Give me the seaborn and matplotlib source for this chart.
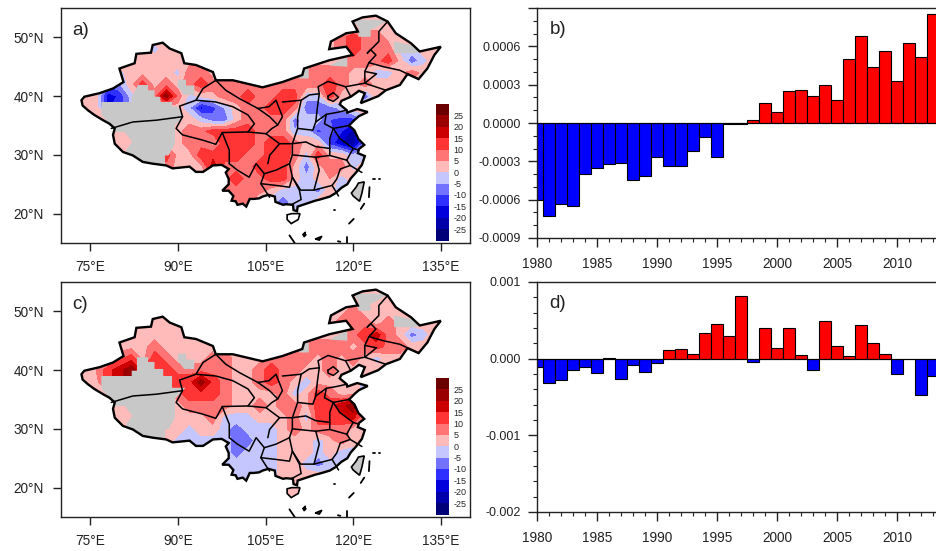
import numpy as np
import matplotlib
matplotlib.use('Agg')
import matplotlib.pyplot as plt
import seaborn as sns
from matplotlib.colors import ListedColormap, BoundaryNorm
from matplotlib.colorbar import ColorbarBase
from matplotlib.patches import Polygon
from matplotlib.ticker import MultipleLocator, FuncFormatter

# ── bar series ──────────────────────────────────────────────
years = list(range(1980, 2014))
series_b = [-0.00060, -0.00073, -0.000634, -0.00065, -0.000397, -0.000355, -0.000323, -0.000316,
            -0.000443, -0.000412, -0.000269, -0.000339, -0.000337, -0.000222, -0.000107, -0.000266,
            -0.000005, -0.000005, 0.00002, 0.000154, 0.000083, 0.000253, 0.000258, 0.000214,
            0.000297, 0.00018, 0.0005, 0.000683, 0.00044, 0.000566, 0.000331, 0.000623, 0.000514, 0.000853]
series_d = [-0.00011, -0.00032, -0.00028, -0.00015, -0.00011, -0.00019, 0.00001, -0.00027,
            -0.00008, -0.00017, -0.00006, 0.00011, 0.00013, 0.000065, 0.00034, 0.00045,
            0.0003, 0.00082, -0.00004, 0.0004, 0.00014, 0.0004, 0.00005, -0.00015,
            0.00049, 0.00016, 0.00003, 0.00044, 0.0002, 0.000065, -0.0002, -0.000005, -0.00048, -0.00023]

# ── gridded fields, 2 degree ────────────────────────────────
grid_lon = list(range(72, 138, 2))
grid_lat = list(range(54, 16, -2))
field_a = [
    [3]*33,
    [3]*33,
    [3]*23 + [8,13,8,8,3,3,3,3,3,3],
    [3,3,3,3,3,3,3,-2,3,3] + [3]*13 + [8,13,8,8,8,-2,-2,3,3,3],
    [3]*23 + [3,8,8,8,13,3,-9,-2,3,3],
    [3,3,3,3,-2,3,3,3,3,-2,8,8,3,8,8,8,8,8,8,8,8,8,8,8,3,3,-3,-3,3,8,3,3,3],
    [3,3,3,-8,-6,3,13,3,8,3,8,13,8,8,8,8,8,8,8,8,8,8,13,8,3,8,3,3,3,3,3,3,3],
    [3,3,3,-18,-14,-3,3,8,23,8,-2,1,3,8,8,13,8,8,13,13,-3,-3,13,3,3,-10,3,3,3,3,3,3,3],
    [3,3,3,-16,-12,-4,3,3,3,3,-5,-17,-12,-5,3,8,8,13,13,8,-9,-8,-8,-3,3,3] + [3]*7,
    [3]*10 + [3,-3,-8,-8,2,8,8,8,8,-8,-2,-3,-10,-12,-12,-3] + [3]*7,
    [3]*10 + [8,8,13,13,13,13,8,8,8,-5,-2,-12,-8,-15,-22,-10] + [3]*7,
    [3]*10 + [8,8,3,13,13,13,8,13,13,8,3,3,-12,-20,-24,-8] + [3]*7,
    [3]*8 + [13,3,3,13,13,13,13,8,8,13,13,8,-2,13,3,3,-5,-2] + [3]*7,
    [3]*8 + [8,3,3,3,18,8,8,8,13,13,13,3,-8,3,8,8,-2,3] + [3]*7,
    [3]*8 + [8,3,3,3,8] + [8,13,8,8,13,13,3,-4,3,5,-3,3,3] + [3]*7,
    [3]*12 + [8] + [8,8,8,8,3,-2,-2,-2,-8,3,-5,3,3] + [3]*7,
    [3]*12 + [8] + [8,8,8,-3,-3,-8,-2,-2,3,3,3,3,3] + [3]*7,
    [3]*13 + [8,8,8,8,3,-8,-3,3] + [3]*12,
    [3]*33,
]
field_c = [
    [3]*33,
    [3]*33,
    [3]*23 + [3,8,3,3,3,3,3,3,3,3],
    [3]*23 + [8,8,8,3,8,3,3,3,3,3],
    [3]*23 + [3,8,13,18,8,3,-8,-3,3,3],
    [3,3,3,3,3,3,3,8,3,3] + [3]*6 + [8,8,8,8,8] + [8,8,8,3,8,13,8,8,3,3,3,3],
    [3,3,3,3,8,13,3,13,8,3,3,3,8,8,3,3,3,8,8,8,8,3,8,3,8,3,-3,3] + [3]*5,
    [3,3,5,13,18,24,13,13,13,8,8,8,8,8,3,3,8,13,8,8,3,3,8,3,3,3] + [3]*7,
    [3,3,3,13,18,24,3,3,13,13,13,23,13,8,3,3,8,13,8,3,-3,3,3,3,3,-3] + [3]*7,
    [3]*9 + [8] + [13,13,13,8,3,3,3,3,8,-3,3,13,8,3,3,-2] + [3]*7,
    [3]*10 + [8,8,8,8,3,3,8,3,8,8,3,13,13,18,23,3] + [3]*7,
    [3]*10 + [3,3,8,-2,-2,-2,3,3,3,8,-3,13,13,13,18,3] + [3]*7,
    [3]*8 + [3,3,-2,3,3,-3,-8,-3,-3,-3,3,8,3,8,8,8,3,3] + [3]*7,
    [3]*8 + [3,-2,-2,-2,-2,-2,-8,-8,-2,-3,3,3,3,-3,3,8,3,3] + [3]*7,
    [3]*8 + [3,-2,-2,-2,-2] + [-2,-8,-3,-3,-3,3,3,3,-3,3,-3,-3,3] + [3]*7,
    [3]*12 + [-2] + [-2,-3,-3,-3,-3,3,3,-3,-8,-3,-3,3,3] + [3]*7,
    [3]*12 + [-2] + [-3,-3,-3,-3,-3,3,3,3,3,3,3,3,3] + [3]*7,
    [3]*13 + [-3,-3,-3,-3,3,3,3,3] + [3]*12,
    [3]*33,
]

# ── country and province outlines, lon/lat ──────────────────
china_lon = [73.5,74.0,76.6,78.9,80.7,80.0,82.6,82.9,85.4,85.7,87.4,88.6,90.6,91.1,93.1,96.0,96.5,99.4,104.5,107.9,111.3,111.6,115.9,119.9,
             118.8,115.9,116.2,118.8,120.8,119.9,121.6,123.9,125.9,127.3,129.9,131.4,135.0,133.9,132.7,131.2,129.3,128.0,125.6,124.3,
             121.3,122.0,121.0,119.6,118.0,117.7,118.9,119.0,120.7,122.5,121.0,120.3,119.3,120.2,120.9,121.9,121.0,120.8,122.0,121.5,120.5,119.6,119.0,118.0,117.0,116.0,114.3,113.5,112.0,110.5,110.4,109.8,109.7,108.5,108.0,
             106.7,106.6,105.5,104.5,103.9,103.0,102.3,101.7,101.1,100.2,99.9,99.2,99.5,98.7,97.6,98.7,98.7,98.2,98.7,97.5,96.0,94.3,93.1,92.0,89.1,88.0,85.7,84.0,82.3,80.6,79.2,78.9,79.2,78.3,77.2,75.7,74.6,73.7]
china_lat = [39.3,39.9,40.5,41.3,42.4,44.7,45.6,47.2,47.4,48.7,49.1,48.1,47.3,45.6,45.3,44.1,42.7,42.7,41.5,42.4,43.6,44.7,46.1,47.0,
             48.4,48.0,49.3,50.7,51.0,52.7,53.4,53.7,52.7,50.7,49.0,47.6,48.4,47.0,44.7,42.9,43.75,41.9,41.0,40.0,
             38.8,40.5,40.9,39.9,39.2,38.6,37.6,37.2,37.8,37.3,36.6,36.0,35.0,34.2,32.7,31.7,31.0,30.3,29.8,28.3,27.0,26.0,25.0,24.4,23.5,22.9,22.4,22.2,21.7,21.2,20.4,20.6,21.5,21.6,21.5,
             22.0,22.9,23.2,22.9,22.6,22.5,22.5,21.2,21.7,21.5,22.1,22.2,23.0,23.9,23.9,25.0,25.9,27.0,27.6,28.3,28.2,27.1,27.1,28.0,27.7,28.2,28.5,28.8,29.9,30.5,31.9,33.4,34.5,35.3,35.9,36.8,37.6,38.4]
province_lines = [
    [(78.6,34.5),(82.3,35.6),(86.3,35.9),(90.8,36.5),(90.3,38.3),(93.1,39.3),(94.3,41.3),(96.5,42.7)],
    [(93.1,39.3),(96.5,39.0),(99.4,38.2),(102.0,36.8),(103.1,35.3),(102.0,33.9)],
    [(96.5,42.7),(98.2,41.0),(100.5,39.6),(103.7,37.9),(105.6,38.2),(106.8,39.3),(107.9,36.5),(107.1,35.1),(105.7,36.5),(103.7,37.9)],
    [(90.8,36.5),(89.7,34.5),(90.8,33.4),(94.3,32.5),(96.5,31.8),(97.6,33.8),(102.0,33.9),(105.1,33.6),(107.4,31.9),(109.6,31.9)],
    [(97.6,33.8),(98.8,30.8),(98.8,28.5)],
    [(98.8,28.5),(100.2,27.4),(102.2,26.2),(103.4,28.5),(104.8,26.8),(104.2,25.1),(105.1,23.7),(105.7,22.8)],
    [(104.8,26.8),(106.8,27.4),(109.1,28.5),(109.6,26.2),(110.8,24.0),(111.1,22.4),(109.4,21.5)],
    [(104.2,25.1),(106.8,24.8),(109.1,24.5),(109.6,26.2)],
    [(107.4,31.9),(105.7,29.9),(105.4,28.5)],
    [(109.6,31.9),(109.6,30.0),(109.1,28.5)],
    [(105.1,33.6),(106.1,34.5),(107.1,35.1)],
    [(107.9,39.0),(111.1,39.3),(110.5,36.5),(110.5,34.5),(109.6,31.9)],
    [(111.1,39.3),(112.5,40.2),(114.2,40.4),(113.9,38.2),(113.6,35.6),(113.1,34.2),(110.5,34.5)],
    [(114.2,40.4),(114.0,41.6),(115.7,42.5),(118.7,41.6),(119.6,39.9)],
    [(115.7,40.0),(116.6,40.6),(117.5,39.8),(116.6,39.1),(115.7,39.5),(115.7,40.0)],
    [(113.6,35.6),(115.4,36.9),(117.1,37.2),(118.9,37.6)],
    [(115.4,36.9),(115.1,35.3),(116.6,34.5),(119.3,35.0)],
    [(116.6,34.5),(116.0,32.8),(116.0,31.1)],
    [(109.6,31.9),(111.9,32.2),(113.6,31.4),(116.0,31.1)],
    [(116.6,34.5),(117.7,32.8),(120.0,31.1),(121.0,30.8)],
    [(120.0,31.1),(118.9,29.1)],
    [(116.0,31.1),(116.0,29.9),(118.9,29.1)],
    [(109.6,30.0),(113.6,29.6),(116.0,29.9)],
    [(113.6,29.6),(114.2,27.4),(113.3,24.0)],
    [(109.6,26.2),(111.0,24.0),(113.3,24.0),(116.4,24.8),(117.5,23.0)],
    [(118.9,29.1),(119.5,28.2),(117.8,27.6),(117.2,25.9),(116.4,24.8)],
    [(119.5,28.2),(121.5,27.0)],
    [(125.9,52.7),(124.4,51.0),(124.4,49.3),(122.4,47.3),(123.0,47.9),(123.9,47.0),(122.7,45.7),(122.0,44.2),(122.0,42.2),(118.7,41.6)],
    [(122.7,45.7),(125.2,45.0),(128.0,44.4),(131.2,42.9)],
    [(122.0,42.2),(125.6,41.0)],
    [(122.0,44.2),(124.0,43.8),(122.0,42.2)],
]

# ── missing-data areas ──────────────────────────────────────
gray_south = [(89.5,35.1),(89.5,31.9),(88.4,29.9),(87.8,29.9),(87.8,27.0),(83.4,27.0),(81.15,29.9),(81.15,30.8),(82.2,32.2),(80.9,33.9),(78.9,33.9),(78.3,35.3),(76.9,36.8)]
gray_a = [
    [(76.9,39.0),(82.1,39.0),(82.1,39.9),(83.2,41.9),(84.9,41.9),(84.9,41.0),(86.0,41.0),(86.0,39.9),(87.0,39.9),(87.0,39.0),(89.0,39.0),(89.0,38.2),(90.0,38.2),(91.0,36.5)] + gray_south,
    [(90.0,42.8),(91.4,42.8),(91.4,41.8),(92.8,41.8),(92.8,40.2),(91.1,40.2),(90.0,41.6)],
]
gray_c = [
    [(76.9,39.0),(82.1,39.0),(82.1,39.9),(83.0,39.9),(83.0,42.2),(84.9,42.2),(84.9,41.4),(86.0,41.4),(86.0,40.2),(87.5,40.2),(87.5,39.0),(89.0,39.0),(89.0,37.0),(91.3,37.0)] + gray_south,
    [(90.0,42.8),(91.4,42.8),(91.4,41.8),(92.8,41.8),(92.8,40.2),(91.1,40.2),(90.0,41.6)],
]
gray_common = [
    [(119.9,53.0),(126.2,53.0),(123.0,51.25),(123.0,50.1),(120.9,50.1),(120.9,51.8)],
    [(127.0,49.3),(131.5,48.4),(131.0,47.3),(127.0,47.3)],
    [(115.9,45.2),(119.0,46.8),(119.0,45.0)],
    [(110.8,45.0),(112.4,44.7),(112.4,43.0),(110.8,43.0)],
    [(96.0,44.6),(97.0,44.6),(97.0,43.0),(96.0,43.0)],
]

# ── islands and sea boundary dashes, lon/lat ────────────────
taiwan = [(120.9,25.2),(121.9,25.4),(121.5,23.5),(121.1,22.1),(120.0,23.0),(119.7,23.5),(120.5,24.5)]
hainan = [(109.5,20.0),(110.9,20.0),(110.6,19.0),(109.4,18.3),(108.7,19.0),(108.7,19.8)]
sea_lines = [
    [(119.3,18.3),(120.1,19.1)],
    [(109.1,16.3),(110.0,15.0)],
    [(119.0,16.0),(119.0,15.0)],
    [(117.4,15.3),(117.8,15.2)],
    [(121.3,20.8),(121.9,21.7)],
    [(122.7,22.8),(122.8,24.5)],
    [(123.4,25.9),(123.7,25.9)],
    [(124.4,25.9),(124.6,25.9)],
    [(116.7,20.7),(116.9,20.7)],
    [(113.6,15.7),(114.6,16.1),(114.2,15.5),(113.6,15.7)],
    [(111.4,16.4),(111.8,16.8),(111.6,16.1),(111.9,16.4)],
]

# ── colours ─────────────────────────────────────────────────
levels = [-30, -25, -20, -15, -10, -5, 0, 5, 10, 15, 20, 25, 30]
colors = ['#000078', '#0000ab', '#0000dc', '#2f2fff', '#7272ff', '#c6c6ff',
          '#ffbaba', '#ff7575', '#ff3535', '#cc0000', '#9a0000', '#6a0000']
cmap = ListedColormap(colors)
norm = BoundaryNorm(levels, cmap.N)

sns.set_theme(style='ticks')
plt.rcParams['font.family'] = ['Liberation Sans', 'DejaVu Sans']
plt.rcParams['axes.linewidth'] = 1.0
plt.rcParams['axes.edgecolor'] = '#222222'

W, H = 937, 551
fig = plt.figure(figsize=(W / 100, H / 100), dpi=100, facecolor='white')


def px_axes(left, top, right, bottom):
    return fig.add_axes([left / W, 1 - bottom / H, (right - left) / W, (bottom - top) / H])


def draw_map(ax, field, gray, label, hainan_color):
    ax.set_xlim(70, 140)
    ax.set_ylim(15, 55)
    boundary = Polygon(np.column_stack([china_lon, china_lat]), closed=True,
                       transform=ax.transData, fill=False, ec='none')
    ax.add_patch(boundary)
    cs = ax.contourf(grid_lon, grid_lat, np.array(field, dtype=float), levels=levels, cmap=cmap, norm=norm)
    cs.set_clip_path(boundary)
    for cells in gray + gray_common:
        p = Polygon(cells, closed=True, fc='#c8c8c8', ec='none', zorder=2)
        ax.add_patch(p)
        p.set_clip_path(boundary)
    for line in province_lines:
        ax.plot(*zip(*line), color='black', lw=1.1, zorder=3)
    ax.add_patch(Polygon(np.column_stack([china_lon, china_lat]), closed=True, fill=False,
                         ec='black', lw=1.7, zorder=4))
    ax.add_patch(Polygon(taiwan, closed=True, fc='#c8c8c8', ec='black', lw=1.2, zorder=4))
    ax.add_patch(Polygon(hainan, closed=True, fc=hainan_color, ec='black', lw=1.2, zorder=4))
    for line in sea_lines:
        ax.plot(*zip(*line), color='black', lw=1.3, zorder=4)
    ax.set_xticks([75, 90, 105, 120, 135])
    ax.set_xticklabels(['75°E', '90°E', '105°E', '120°E', '135°E'])
    ax.set_yticks([20, 30, 40, 50])
    ax.set_yticklabels(['20°N', '30°N', '40°N', '50°N'])
    ax.tick_params(length=6, width=1, labelsize=9.8, pad=6.5, colors='#222222')
    ax.text(0.047, 0.905, label, transform=ax.transAxes, fontsize=13.5, ha='center', va='center', color='#222222')


def draw_colorbar(top):
    cax = px_axes(436.5, top, 449, top + 136.5)
    cb = ColorbarBase(cax, cmap=cmap, norm=norm, boundaries=levels, ticks=levels[1:-1], spacing='uniform', drawedges=False)
    cb.outline.set_visible(False)
    cb.ax.minorticks_off()
    cb.ax.tick_params(length=0, labelsize=6.5, pad=3)
    cb.set_ticklabels([str(v) for v in levels[1:-1]])


def draw_bars(ax, values, ylim, major, minor, fmt, label, hide=None):
    sign = ['pos' if v >= 0 else 'neg' for v in values]
    sns.barplot(x=years, y=values, hue=sign, palette={'pos': '#ff0000', 'neg': '#0000ff'}, dodge=False,
                native_scale=True, width=1, saturation=1, edgecolor='black', linewidth=0.8, legend=False, ax=ax)
    ax.set_xlim(1980, 1980 + (950 - 537) / 12)
    ax.set_ylim(*ylim)
    ax.set_xticks(range(1980, 2014, 5))
    ax.xaxis.set_minor_locator(MultipleLocator(1))
    ax.yaxis.set_major_locator(MultipleLocator(major))
    ax.yaxis.set_minor_locator(MultipleLocator(minor))

    def tick_text(v, _):
        if hide is not None and abs(v - hide) < 1e-9:
            return ''
        return fmt.format(v if abs(v) > 1e-9 else 0.0)

    ax.yaxis.set_major_formatter(FuncFormatter(tick_text))
    ax.tick_params(which='major', length=6.3, width=1, colors='#222222')
    ax.tick_params(which='minor', length=3.2, width=0.8, colors='#222222')
    ax.tick_params(axis='x', which='major', labelsize=9.8, pad=7.5)
    ax.tick_params(axis='y', which='major', labelsize=9, pad=5.5)
    ax.axhline(0, color='black', lw=0.8, zorder=5)
    ax.set_xlabel('')
    ax.set_ylabel('')
    ax.text(0.05, 0.905, label, transform=ax.transAxes, fontsize=13.5, ha='center', va='center', color='#222222')


ax_a = px_axes(61, 8, 470, 243)
ax_c = px_axes(61, 282, 470, 517)
draw_map(ax_a, field_a, gray_a, 'a)', 'white')
draw_map(ax_c, field_c, gray_c, 'c)', '#ffbaba')
draw_colorbar(104)
draw_colorbar(378)

ax_b = px_axes(537, 8, 950, 238)
ax_d = px_axes(537, 282, 950, 512)
draw_bars(ax_b, series_b, (-0.0009, 0.0009), 0.0003, 0.0001, '{:.4f}', 'b)', hide=0.0009)
draw_bars(ax_d, series_d, (-0.002, 0.001), 0.001, 0.0002, '{:.3f}', 'd)')

fig.savefig('out.png', dpi=100)
